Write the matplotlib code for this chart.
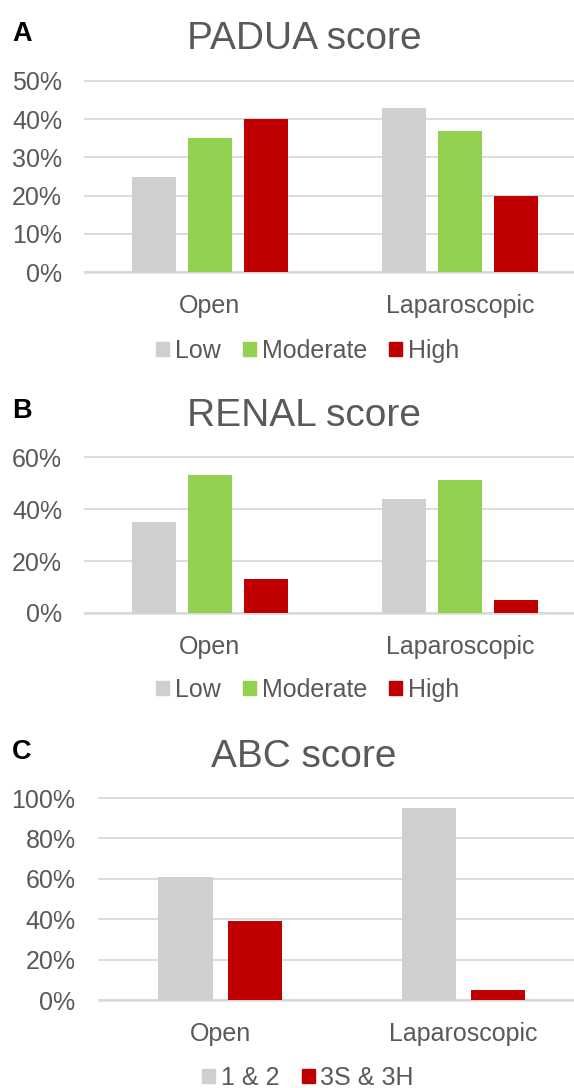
import matplotlib
matplotlib.use("Agg")
import matplotlib.pyplot as plt
from matplotlib.patches import Rectangle
import numpy as np

plt.rcParams['font.family'] = ['Liberation Sans', 'DejaVu Sans']

categories = ["Open", "Laparoscopic"]

padua_series = ["Low", "Moderate", "High"]
padua_low = [25, 43]
padua_moderate = [35, 37]
padua_high = [40, 20]

renal_series = ["Low", "Moderate", "High"]
renal_low = [35, 44]
renal_moderate = [53, 51]
renal_high = [13, 5]

abc_series = ["1 & 2", "3S & 3H"]
abc_12 = [61, 95]
abc_3 = [39, 5]

padua_ticks = [0, 10, 20, 30, 40, 50]
renal_ticks = [0, 20, 40, 60]
abc_ticks = [0, 20, 40, 60, 80, 100]

GRAY = "#D0CECE"
GREEN = "#92D050"
RED = "#C00000"
TXT = "#595959"
GRID = "#D9D9D9"

W, H = 574, 1088
fig = plt.figure(figsize=(W / 100, H / 100), dpi=100)


def px_axes(left, top, bottom, right=W):
    return fig.add_axes([left / W, 1 - bottom / H, (right - left) / W, (bottom - top) / H])


def panel(ax, series_vals, colors, offsets, width, ticks, spacing_px, axes_w_px):
    x = np.arange(len(categories))
    for vals, col, off in zip(series_vals, colors, offsets):
        ax.bar(x + off, vals, width=width, color=col, zorder=3, linewidth=0)
    ax.set_ylim(ticks[0], ticks[-1])
    ax.set_xlim(-0.5, -0.5 + axes_w_px / spacing_px)
    ax.set_yticks(ticks)
    ax.set_yticklabels([f"{t}%" for t in ticks])
    ax.set_xticks(x)
    ax.set_xticklabels(categories)
    for s in ax.spines.values():
        s.set_visible(False)
    ax.yaxis.grid(True, color=GRID, lw=1.3, zorder=0)
    ax.set_axisbelow(True)
    ax.axhline(0, color=GRID, lw=1.8, zorder=2, clip_on=False)
    ax.tick_params(axis='both', length=0, labelsize=18, labelcolor=TXT)
    ax.tick_params(axis='y', pad=16.5)
    ax.tick_params(axis='x', pad=16)
    for gl in ax.get_ygridlines():
        gl.set_clip_on(False)


def legend(labels, colors, ycen):
    handles = [Rectangle((0, 0), 1, 1, color=c) for c in colors]
    fig.legend(handles, labels, loc='center', bbox_to_anchor=(308 / W, 1 - ycen / H),
               ncol=len(labels), frameon=False, fontsize=18, labelcolor=TXT,
               handlelength=0.52, handleheight=0.52, handletextpad=0.24,
               columnspacing=0.88, borderpad=0, borderaxespad=0)


def titles(letter, title, base_letter, base_title):
    fig.text(304 / W, 1 - base_title / H, title, ha='center', va='baseline',
             fontsize=28, color=TXT)
    fig.text(12 / W, 1 - base_letter / H, letter, ha='left', va='baseline',
             fontsize=19.5, fontweight='bold', color='black')


# Panel A
axA = px_axes(85, 81, 272)
panel(axA, [padua_low, padua_moderate, padua_high], [GRAY, GREEN, RED],
      [-0.223, 0, 0.223], 0.175, padua_ticks, 250, W - 85)
legend(padua_series, [GRAY, GREEN, RED], 351)
titles("A", "PADUA score", 41, 49)

# Panel B
axB = px_axes(85, 457, 613)
panel(axB, [renal_low, renal_moderate, renal_high], [GRAY, GREEN, RED],
      [-0.223, 0, 0.223], 0.175, renal_ticks, 250, W - 85)
legend(renal_series, [GRAY, GREEN, RED], 690)
titles("B", "RENAL score", 418, 426)

# Panel C
axC = px_axes(98.5, 798, 1000)
panel(axC, [abc_12, abc_3], [GRAY, RED],
      [-0.142, 0.142], 0.223, abc_ticks, 243.4, W - 98.5)
legend(abc_series, [GRAY, RED], 1078)
titles("C", "ABC score", 759, 767)

fig.savefig("out.png", dpi=100)
